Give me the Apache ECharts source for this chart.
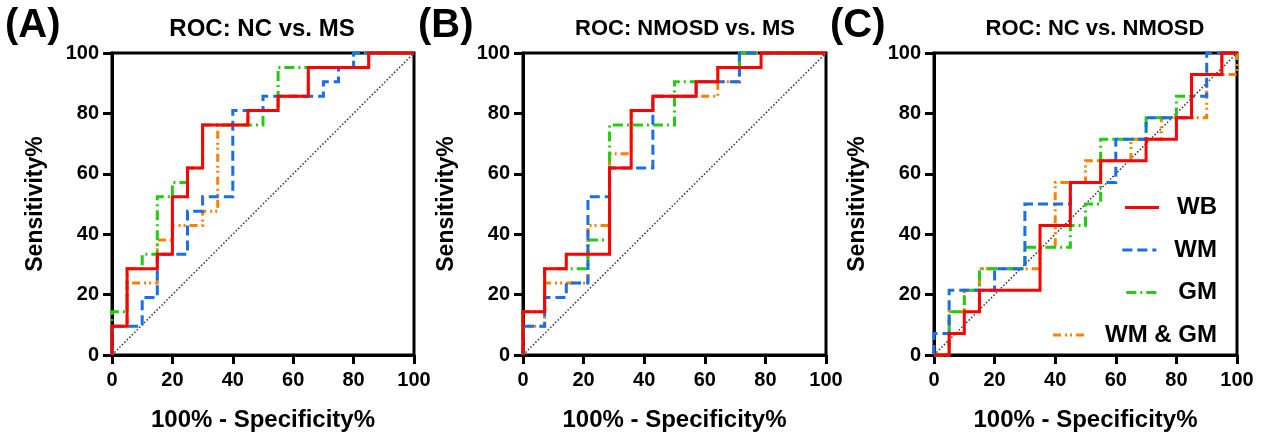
<!DOCTYPE html>
<html><head><meta charset="utf-8">
<script src="https://cdn.jsdelivr.net/npm/echarts@6/dist/echarts.min.js"></script>
<style>html,body{margin:0;padding:0;background:#fff}#c{width:1266px;height:434px}</style>
</head><body><div id="c"></div>
<script>
// ---- data (x = 100% - Specificity%, y = Sensitivity%) ----
const panelTitles = ['ROC: NC vs. MS', 'ROC: NMOSD vs. MS', 'ROC: NC vs. NMOSD'];
const panelLabels = ['(A)', '(B)', '(C)'];
const seriesNames = ['WB', 'WM', 'GM', 'WM & GM'];
const tickValues = [0, 20, 40, 60, 80, 100];
const diagonal = [[0, 0], [100, 100]];

const A_WB = [[0,0],[0,9.52],[5,9.52],[5,28.57],[15,28.57],[15,33.33],[20,33.33],[20,52.38],[25,52.38],[25,61.9],[30,61.9],[30,76.19],[45,76.19],[45,80.95],[55,80.95],[55,85.71],[65,85.71],[65,95.24],[85,95.24],[85,100],[100,100]];
const A_WM = [[0,0],[0,9.52],[10,9.52],[10,19.05],[15,19.05],[15,33.33],[25,33.33],[25,47.62],[30,47.62],[30,52.38],[40,52.38],[40,80.95],[50,80.95],[50,85.71],[70,85.71],[70,90.48],[75,90.48],[75,95.24],[80,95.24],[80,100],[100,100]];
const A_GM = [[0,0],[0,14.29],[5,14.29],[5,28.57],[10,28.57],[10,33.33],[15,33.33],[15,52.38],[20,52.38],[20,57.14],[25,57.14],[25,61.9],[30,61.9],[30,76.19],[50,76.19],[50,80.95],[55,80.95],[55,95.24],[80,95.24],[80,100],[100,100]];
const A_WMGM = [[0,0],[0,9.52],[5,9.52],[5,23.81],[15,23.81],[15,38.1],[20,38.1],[20,42.86],[30,42.86],[30,47.62],[35,47.62],[35,76.19],[45,76.19],[45,80.95],[55,80.95],[55,85.71],[65,85.71],[65,95.24],[85,95.24],[85,100],[100,100]];

const B_WB = [[0,0],[0,14.29],[7.14,14.29],[7.14,28.57],[14.29,28.57],[14.29,33.33],[28.57,33.33],[28.57,61.9],[35.71,61.9],[35.71,80.95],[42.86,80.95],[42.86,85.71],[57.14,85.71],[57.14,90.48],[64.29,90.48],[64.29,95.24],[78.57,95.24],[78.57,100],[100,100]];
const B_WM = [[0,0],[0,9.52],[7.14,9.52],[7.14,19.05],[14.29,19.05],[14.29,23.81],[21.43,23.81],[21.43,52.38],[28.57,52.38],[28.57,61.9],[42.86,61.9],[42.86,85.71],[57.14,85.71],[57.14,90.48],[71.43,90.48],[71.43,100],[100,100]];
const B_GM = [[0,0],[0,14.29],[7.14,14.29],[7.14,28.57],[21.43,28.57],[21.43,38.1],[28.57,38.1],[28.57,76.19],[50,76.19],[50,90.48],[64.29,90.48],[64.29,95.24],[71.43,95.24],[71.43,100],[100,100]];
const B_WMGM = [[0,0],[0,9.52],[7.14,9.52],[7.14,23.81],[21.43,23.81],[21.43,42.86],[28.57,42.86],[28.57,66.67],[35.71,66.67],[35.71,80.95],[42.86,80.95],[42.86,85.71],[64.29,85.71],[64.29,90.48],[71.43,90.48],[71.43,100],[100,100]];

const C_WB = [[0,0],[5,0],[5,7.14],[10,7.14],[10,14.29],[15,14.29],[15,21.43],[35,21.43],[35,42.86],[45,42.86],[45,57.14],[55,57.14],[55,64.29],[70,64.29],[70,71.43],[80,71.43],[80,78.57],[85,78.57],[85,92.86],[95,92.86],[95,100],[100,100]];
const C_WM = [[0,0],[0,7.14],[5,7.14],[5,21.43],[20,21.43],[20,28.57],[30,28.57],[30,50],[45,50],[45,57.14],[60,57.14],[60,71.43],[70,71.43],[70,78.57],[85,78.57],[85,85.71],[90,85.71],[90,100],[100,100]];
const C_GM = [[0,0],[5,0],[5,14.29],[10,14.29],[10,21.43],[15,21.43],[15,28.57],[30,28.57],[30,35.71],[45,35.71],[45,42.86],[50,42.86],[50,50],[55,50],[55,71.43],[70,71.43],[70,78.57],[80,78.57],[80,85.71],[85,85.71],[85,92.86],[95,92.86],[95,100],[100,100]];
const C_WMGM = [[0,0],[5,0],[5,14.29],[10,14.29],[10,21.43],[15,21.43],[15,28.57],[35,28.57],[35,35.71],[40,35.71],[40,57.14],[50,57.14],[50,64.29],[65,64.29],[65,71.43],[75,71.43],[75,78.57],[90,78.57],[90,92.86],[100,92.86],[100,100]];

const panelData = [
  [A_WB, A_WM, A_GM, A_WMGM],
  [B_WB, B_WM, B_GM, B_WMGM],
  [C_WB, C_WM, C_GM, C_WMGM]
];

// ---- styling ----
const FONT = "'Liberation Sans', Arial, Helvetica, sans-serif";
const colors = ['#ff0000', '#1a6ee6', '#22cc11', '#ff8000'];
const dashes = ['solid', [10, 5], [10, 4, 2, 4], [8, 4, 2, 3, 2, 4]];
const zs = [6, 5, 4, 3];
const grids = [
  {left: 112, top: 53, width: 302, height: 302},
  {left: 523, top: 53, width: 303, height: 302},
  {left: 934, top: 53, width: 303, height: 302}
];
const titleSizes = [24, 22, 22];

const option = {
  animation: false,
  backgroundColor: '#fff',
  title: [],
  grid: [],
  xAxis: [],
  yAxis: [],
  series: [],
  legend: []
};

grids.forEach((g, i) => {
  option.grid.push(Object.assign({show: true, borderColor: '#000', borderWidth: 3, backgroundColor: 'transparent',
    containLabel: false, outerBoundsMode: 'none'}, g));
  option.title.push({text: panelTitles[i], left: [257, 680, 1090][i], top: 13 - (titleSizes[i] - 22) / 2, textAlign: 'center',
    textStyle: {fontFamily: FONT, fontWeight: 'bold', fontSize: titleSizes[i], color: '#000'}});
  option.title.push({text: panelLabels[i], left: [0, 413, 825][i], top: 1,
    textStyle: {fontFamily: FONT, fontWeight: 'bold', fontSize: 40, color: '#000'}});
  const axisCommon = {
    type: 'value', gridIndex: i, min: 0, max: 100, interval: 20,
    axisLine: {show: true, lineStyle: {color: '#000', width: 3}},
    axisTick: {show: true, length: 9, inside: false, lineStyle: {color: '#000', width: 3}},
    splitLine: {show: false},
    nameLocation: 'middle'
  };
  option.xAxis.push(Object.assign({}, axisCommon, {
    position: 'bottom', name: '100% - Specificity%', nameGap: 53,
    nameTextStyle: {fontFamily: FONT, fontWeight: 'bold', fontSize: 24, color: '#000'},
    axisLabel: {margin: 15, fontFamily: FONT, fontWeight: 'bold', fontSize: 20, color: '#000',
      formatter: v => tickValues.includes(v) ? String(v) : ''}
  }));
  option.yAxis.push(Object.assign({}, axisCommon, {
    position: 'left', name: 'Sensitivity%', nameGap: 65,
    nameTextStyle: {fontFamily: FONT, fontWeight: 'bold', fontSize: 23, color: '#000'},
    axisLabel: {margin: 13, fontFamily: FONT, fontWeight: 'bold', fontSize: 20, color: '#000',
      formatter: v => tickValues.includes(v) ? String(v) : ''}
  }));
  option.series.push({
    name: 'diag', type: 'line', xAxisIndex: i, yAxisIndex: i, data: diagonal,
    symbol: 'none', silent: true, z: 2,
    lineStyle: {color: '#333', width: 1.5, type: [1.5, 2]}
  });
  const order = [3, 2, 1, 0];
  order.forEach(k => {
    option.series.push({
      name: seriesNames[k], type: 'line', xAxisIndex: i, yAxisIndex: i,
      data: panelData[i][k], symbol: 'none', showSymbol: false, z: zs[k], clip: false,
      lineStyle: {color: colors[k], width: 3, type: dashes[k], join: 'miter', cap: 'butt'},
      itemStyle: {color: colors[k]}
    });
  });
});

const legendCenters = [205.5, 248, 290.5, 333];
seriesNames.forEach((n, k) => {
  option.legend.push({
    data: [n], right: 44, top: legendCenters[k] - 15, orient: 'horizontal',
    itemWidth: 34, itemHeight: 14, selectedMode: false,
    itemStyle: {opacity: 0, borderWidth: 0},
    lineStyle: {width: 3},
    textStyle: {fontFamily: FONT, fontWeight: 'bold', fontSize: 24, color: '#000', padding: [0, 0, 0, 13]}
  });
});

const chart = echarts.init(document.getElementById('c'), null, {renderer: 'canvas'});
chart.setOption(option);
</script>
</body></html>
